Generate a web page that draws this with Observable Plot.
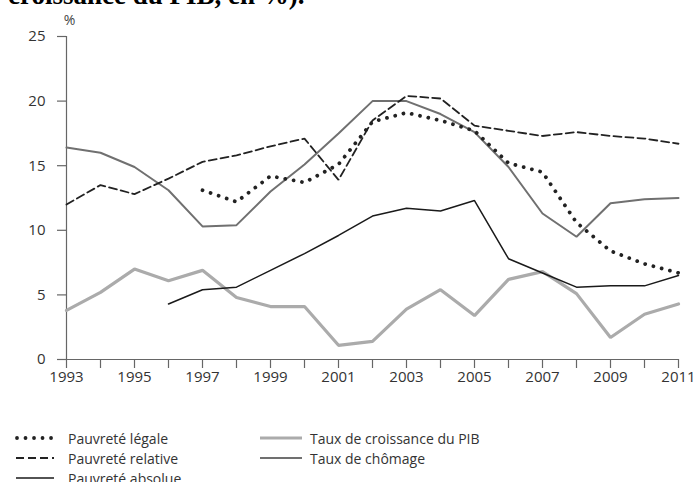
<!DOCTYPE html>
<html><head><meta charset="utf-8">
<script src="https://cdn.jsdelivr.net/npm/d3@7"></script>
<script src="https://cdn.jsdelivr.net/npm/@observablehq/plot@0.6"></script>
<style>
body{margin:0;background:#fff;}
#wrap{position:relative;width:696px;height:482px;overflow:hidden;font-family:"Open Sans",sans-serif;background:#fff;}
#title{position:absolute;left:8px;top:-17.6px;font:bold 27px/27px "Liberation Serif",serif;white-space:nowrap;color:#000;}
#chart{position:absolute;left:0;top:0;}
.item{position:absolute;height:20px;display:flex;align-items:center;font-size:14px;color:#333;white-space:nowrap;}
.item svg{display:block;}
</style></head>
<body>
<div id="wrap">
  <div id="chart"></div>
  <div id="title">croissance du PIB, en %).</div>
</div>
<script>
const years = [1993,1994,1995,1996,1997,1998,1999,2000,2001,2002,2003,2004,2005,2006,2007,2008,2009,2010,2011];
const pauvreteLegale  = [null,null,null,null,13.1,12.2,14.2,13.7,15.1,18.4,19.1,18.5,17.7,15.2,14.5,10.6,8.4,7.4,6.7];
const pauvreteRelative = [12.0,13.5,12.8,14.0,15.3,15.8,16.5,17.1,13.9,18.5,20.4,20.2,18.1,17.7,17.3,17.6,17.3,17.1,16.7];
const pauvreteAbsolue = [null,null,null,4.3,5.4,5.6,6.9,8.2,9.6,11.1,11.7,11.5,12.3,7.8,6.7,5.6,5.7,5.7,6.5];
const croissancePIB = [3.8,5.2,7.0,6.1,6.9,4.8,4.1,4.1,1.1,1.4,3.9,5.4,3.4,6.2,6.8,5.1,1.7,3.5,4.3];
const chomage = [16.4,16.0,14.9,13.1,10.3,10.4,13.0,15.1,17.5,20.0,20.0,19.0,17.6,14.9,11.3,9.5,12.1,12.4,12.5];
const yTicks = [0,5,10,15,20,25];
const legendLabels = ["Pauvreté légale","Pauvreté relative","Pauvreté absolue","Taux de croissance du PIB","Taux de chômage"];

const styles = {
  legale:   {stroke:"#222", strokeWidth:3.8, strokeDasharray:"0.01 8.5", strokeLinecap:"round"},
  relative: {stroke:"#222", strokeWidth:1.8, strokeDasharray:"8 4"},
  absolue:  {stroke:"#1a1a1a", strokeWidth:1.5},
  pib:      {stroke:"#ababab", strokeWidth:3.2},
  chomage:  {stroke:"#707070", strokeWidth:2}
};
const series = (vals) => years.map((y,i)=>({year:y, value:vals[i]}));
const ln = (vals, st) => Plot.line(series(vals), {x:"year", y:"value", strokeLinejoin:"miter", ...st});

const chart = Plot.plot({
  width:696, height:395,
  marginLeft:66, marginRight:18, marginTop:36, marginBottom:36,
  x:{domain:[1993,2011]},
  y:{domain:[0,25]},
  style:{fontFamily:"'Open Sans', sans-serif", fontSize:"15px", color:"#333", background:"transparent"},
  marks:[
    Plot.axisY({ticks:yTicks, tickSize:9, tickPadding:12, label:null, stroke:"#666", strokeWidth:1.2, fill:"#333"}),
    Plot.ruleX([1993], {y1:0, y2:25, stroke:"#666", strokeWidth:1.2}),
    Plot.ruleY([0], {stroke:"#666", strokeWidth:1.2}),
    Plot.axisX({ticks:years, tickSize:9, tickPadding:3, tickFormat:d => d % 2 === 1 ? String(d) : "", label:null, stroke:"#666", strokeWidth:1.2, fill:"#333"}),
    ln(croissancePIB, styles.pib),
    ln(chomage, styles.chomage),
    ln(pauvreteAbsolue, styles.absolue),
    ln(pauvreteRelative, styles.relative),
    ln(pauvreteLegale, styles.legale),
    Plot.text(["%"], {frameAnchor:"top-left", dx:3, dy:-21, fontSize:14, fill:"#444", textAnchor:"middle"})
  ]
});
document.getElementById("chart").appendChild(chart);

// legend
const legendItems = [
  {label:legendLabels[0], st:styles.legale,   x:15, w:40, gap:13, row:0},
  {label:legendLabels[1], st:styles.relative, x:16, w:38, gap:14, row:1},
  {label:legendLabels[2], st:styles.absolue,  x:16, w:38, gap:14, row:2},
  {label:legendLabels[3], st:styles.pib,      x:260, w:42, gap:8, row:0},
  {label:legendLabels[4], st:styles.chomage,  x:260, w:42, gap:8, row:1}
];
const rowCenters = [438, 458, 478];
const wrap = document.getElementById("wrap");
for (const it of legendItems) {
  const div = document.createElement("div");
  div.className = "item";
  div.style.left = it.x + "px";
  div.style.top = (rowCenters[it.row] - 10) + "px";
  const ns = "http://www.w3.org/2000/svg";
  const svg = document.createElementNS(ns, "svg");
  svg.setAttribute("width", it.w); svg.setAttribute("height", 20);
  const l = document.createElementNS(ns, "line");
  l.setAttribute("x1", it.st.strokeLinecap ? 2 : 0); l.setAttribute("x2", it.w);
  l.setAttribute("y1", 10); l.setAttribute("y2", 10);
  l.setAttribute("stroke", it.st.stroke);
  l.setAttribute("stroke-width", it.st.strokeWidth);
  if (it.st.strokeDasharray) l.setAttribute("stroke-dasharray", it.st.strokeDasharray);
  if (it.st.strokeLinecap) l.setAttribute("stroke-linecap", it.st.strokeLinecap);
  svg.appendChild(l);
  div.appendChild(svg);
  const sp = document.createElement("span");
  sp.style.marginLeft = it.gap + "px";
  sp.textContent = it.label;
  div.appendChild(sp);
  wrap.appendChild(div);
}
</script>
</body></html>
